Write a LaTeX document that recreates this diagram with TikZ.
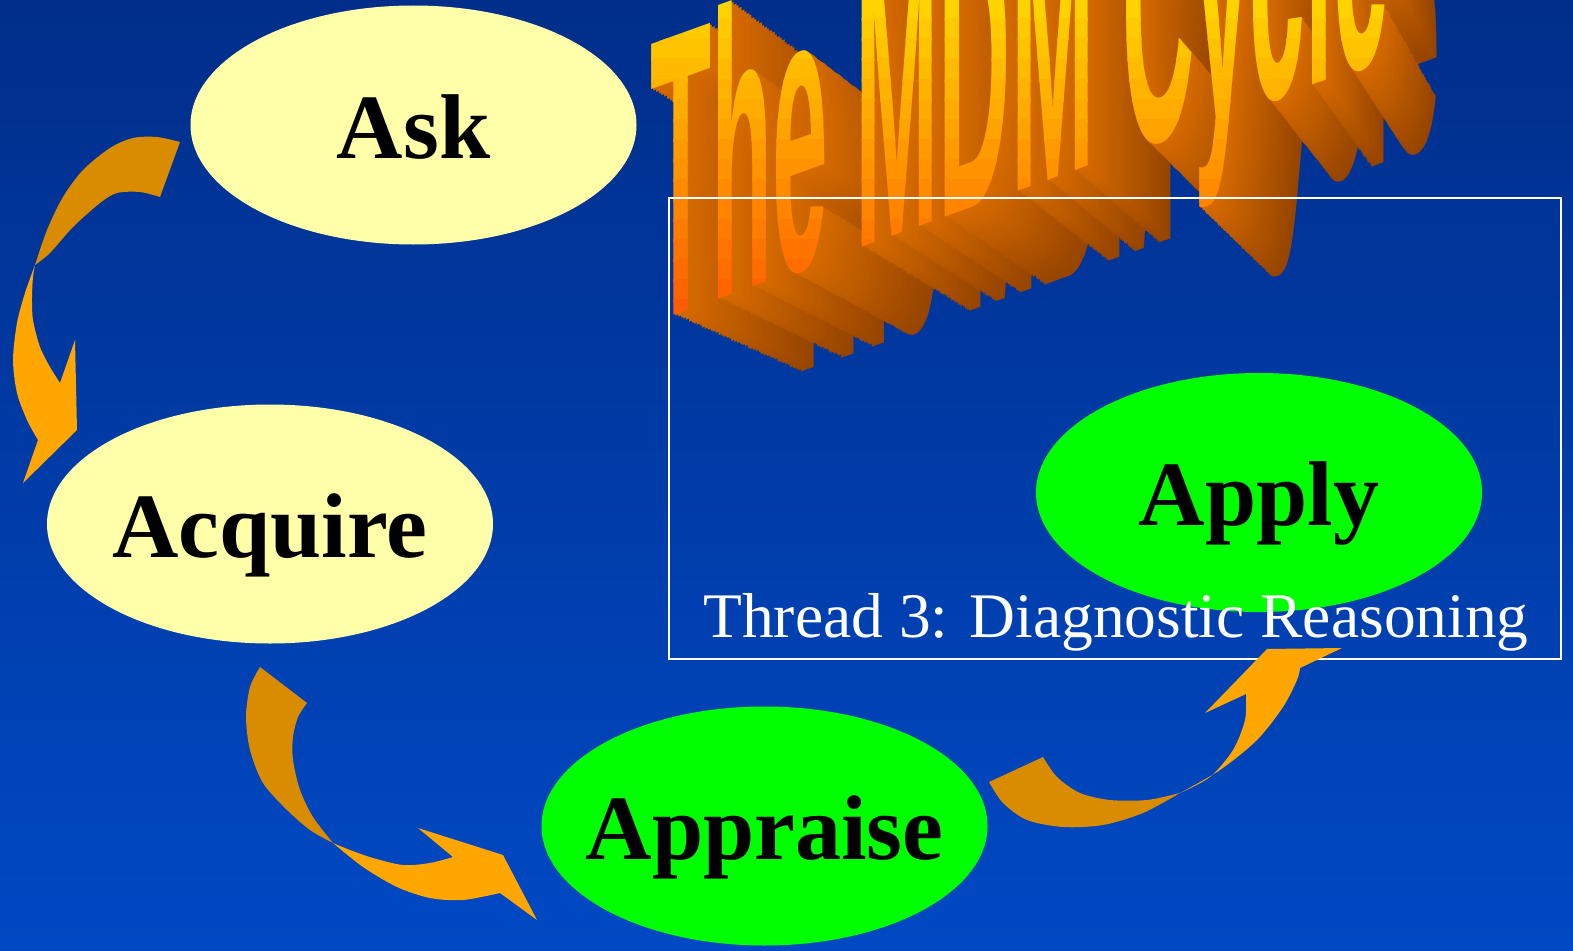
\documentclass[tikz,border=0pt]{standalone}
\usepackage{fontspec}
\setmainfont{Liberation Serif}
\newfontfamily\titlefont{Liberation Sans}
\usetikzlibrary{shapes.geometric}
\definecolor{bgtop}{RGB}{0,46,138}
\definecolor{bgbot}{RGB}{0,73,196}
\definecolor{paleyel}{RGB}{255,255,170}
\definecolor{brightgreen}{RGB}{0,255,0}
\definecolor{arrdark}{RGB}{217,140,0}
\definecolor{arrlight}{RGB}{255,166,0}
\definecolor{extfar}{RGB}{150,68,0}
\definecolor{extnear}{RGB}{214,106,0}
\begin{document}
\begin{tikzpicture}[x=1pt,y=-1pt,
 stage/.style={ellipse, minimum width=446pt, minimum height=239pt, inner sep=0pt, outer sep=0pt, draw=none},
 stagetext/.style={inner sep=0pt, outer sep=0pt, font=\fontsize{92}{92}\selectfont\bfseries, text height=66pt, text depth=0pt},
 titleword/.style={anchor=base west, inner sep=0pt, outer sep=0pt, transform shape, font=\titlefont\bfseries\fontsize{100}{100}\selectfont, yslant=0.36, yscale=4.05},
]
\useasboundingbox (0,0) rectangle (1573,950);
\clip (0,0) rectangle (1573,950);
\shade[top color=bgtop, bottom color=bgbot] (0,0) rectangle (1573,950);
% title extrusion
\foreach \k in {48,...,1}{
 \pgfmathsetmacro\f{1-0.108*\k/48}
 \pgfmathtruncatemacro\p{100*\k/48}
 \colorlet{extc}{extfar!\p!extnear}
 \begin{scope}[shift={(1860,849)}, scale=\f, shift={(-1860,-849)}]
 \node[titleword, text=extc] (ext\k) at (650,323) {The MDM Cycle};
 \end{scope}
}
% title front face
\foreach \b in {0,...,17}{
 \pgfmathtruncatemacro\g{max(80, 215-(\b*20+10)/330*130)}
 \definecolor{bandc}{RGB}{255,\g,0}
 \begin{scope}
 \clip (600,\b*20-1) rectangle (1500,\b*20+21);
 \node[titleword, text=bandc] (face\b) at (650,323) {The MDM Cycle};
 \end{scope}
}
\draw[white, line width=2pt] (669,198) rectangle (1561,659);
\node[stage, fill=paleyel] (ask) at (413.5,125) {};
\node[stage, fill=paleyel] (acquire) at (270,524) {};
\node[stage, fill=brightgreen] (appraise) at (764.5,826) {};
\node[stage, fill=brightgreen] (apply) at (1259,492.5) {};
\node[stagetext] (asktext) at (ask.center) {Ask};
\node[stagetext] (acquiretext) at (acquire.center) {Acquire};
\node[stagetext] (appraisetext) at (appraise.center) {Appraise};
\node[stagetext] (applytext) at (apply.center) {Apply};
% arrow Ask -> Acquire
\fill[arrdark] plot[smooth] coordinates {(180,142) (157,137) (133,138) (110,148) (83,170) (63,197) (47,230) (35,265)} -- plot[smooth] coordinates {(35,265) (50,253) (73,227) (100,203) (117,193) (140,192) (160,197)} -- cycle;
\fill[arrlight] plot[smooth] coordinates {(35,265) (25,293) (17,323) (13,360) (17,393) (27,420) (38,440)} -- (23,483) -- (77,430) -- (75,340) -- plot[smooth] coordinates {(60,383) (50,367) (40,347) (33,320) (32,297) (33,277) (35,265)} -- cycle;
% arrow Acquire -> Appraise
\fill[arrdark] plot[smooth] coordinates {(260,667) (250,687) (246,717) (250,750) (263,783) (287,810) (310,830) (333,843)} -- plot[smooth] coordinates {(333,843) (313,817) (300,790) (293,760) (293,737) (298,717) (307,703)} -- cycle;
\fill[arrlight] plot[smooth] coordinates {(333,843) (363,867) (397,887) (430,898) (463,900) (500,893)} -- (537,920) -- (503,855) -- (418,828) -- plot[smooth] coordinates {(453,857) (430,863) (403,865) (373,858) (350,850) (333,843)} -- cycle;
% arrow Appraise -> Apply
\fill[arrdark] plot[smooth] coordinates {(989,782) (1003,803) (1027,820) (1063,827) (1103,825) (1143,813) (1180,793)} -- plot[smooth] coordinates {(1180,793) (1147,800) (1110,800) (1080,793) (1057,777) (1043,757)} -- cycle;
\fill[arrlight] plot[smooth] coordinates {(1180,793) (1220,770) (1257,740) (1283,707) (1297,680) (1300,668)} -- (1342,648) -- (1267,649) -- (1205,713) -- plot[smooth] coordinates {(1246,694) (1245,720) (1233,750) (1210,777) (1180,793)} -- cycle;
\node[text=white, font=\fontsize{63.5}{63.5}\selectfont, anchor=base, inner sep=0pt] (thread) at (1116,637) {Thread 3: Diagnostic Reasoning};
\end{tikzpicture}
\end{document}
